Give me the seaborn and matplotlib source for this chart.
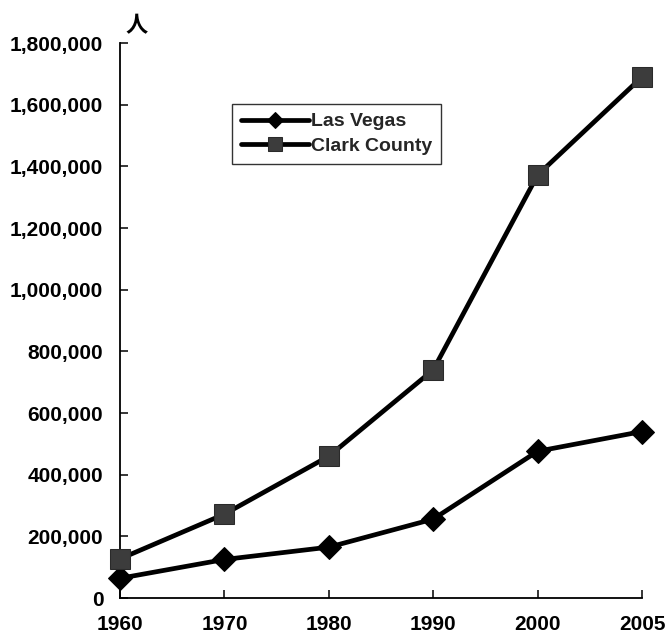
import matplotlib
matplotlib.use("Agg")
import matplotlib.pyplot as plt
import seaborn as sns
import pandas as pd
import numpy as np

# Population by census year
years = ["1960", "1970", "1980", "1990", "2000", "2005"]
las_vegas = [64000, 125000, 165000, 256000, 476000, 540000]
clark_county = [127000, 272000, 460000, 740000, 1372000, 1690000]
y_ticks = list(range(0, 1800001, 200000))

sns.set_theme(style="ticks")
plt.rcParams["font.family"] = ["Liberation Sans", "Noto Sans CJK JP", "DejaVu Sans"]
plt.rcParams["font.weight"] = "bold"

fig = plt.figure(figsize=(6.69, 6.42), dpi=100)
ax = fig.add_axes([0.1794, 0.0685, 0.7803, 0.8645])

pos = np.arange(len(years))
df = pd.DataFrame({
    "pos": np.concatenate([pos, pos]),
    "value": las_vegas + clark_county,
    "series": ["Las Vegas"] * len(years) + ["Clark County"] * len(years),
})

styles = {
    "Las Vegas": dict(marker="D", markersize=12, markerfacecolor="black",
                      markeredgecolor="black"),
    "Clark County": dict(marker="s", markersize=15, markerfacecolor="#3c3c3c",
                         markeredgecolor="#2a2a2a"),
}
for name in ["Las Vegas", "Clark County"]:
    sub = df[df["series"] == name]
    sns.lineplot(data=sub, x="pos", y="value", ax=ax, color="black",
                 linewidth=3.4, label=name, clip_on=False, zorder=3,
                 **styles[name])

ax.set_xlim(0, len(years) - 1)
ax.set_ylim(0, 1800000)
ax.set_xticks(pos)
ax.set_xticklabels(years)
ax.set_yticks(y_ticks)
ax.set_yticklabels([f"{v:,}" for v in y_ticks])
ax.set_xlabel("")
ax.set_ylabel("")

for side in ["top", "right"]:
    ax.spines[side].set_visible(False)
for side in ["left", "bottom"]:
    ax.spines[side].set_linewidth(1.3)
    ax.spines[side].set_color("black")

ax.tick_params(axis="both", direction="in", length=6, width=1.1, color="black",
               labelsize=15, labelcolor="black")
ax.tick_params(axis="y", pad=12)
ax.tick_params(axis="x", pad=12)
for lbl in ax.get_xticklabels() + ax.get_yticklabels():
    lbl.set_fontweight("bold")

leg = ax.legend(loc="upper left", bbox_to_anchor=(0.2146, 0.89), borderaxespad=0,
                frameon=True, fancybox=False, edgecolor="black", fontsize=14,
                handlelength=3.5, handletextpad=0.1, markerscale=0.65,
                borderpad=0.45, labelspacing=0.35)
leg.get_frame().set_linewidth(1.0)
for t in leg.get_texts():
    t.set_fontweight("bold")

fig.text(137 / 669, 1 - 26 / 642, "人", family=["Noto Sans CJK JP", "DejaVu Sans"],
         fontsize=16, fontweight="bold", ha="center", va="center", color="black")

fig.savefig("out.png", dpi=100, facecolor="white")
